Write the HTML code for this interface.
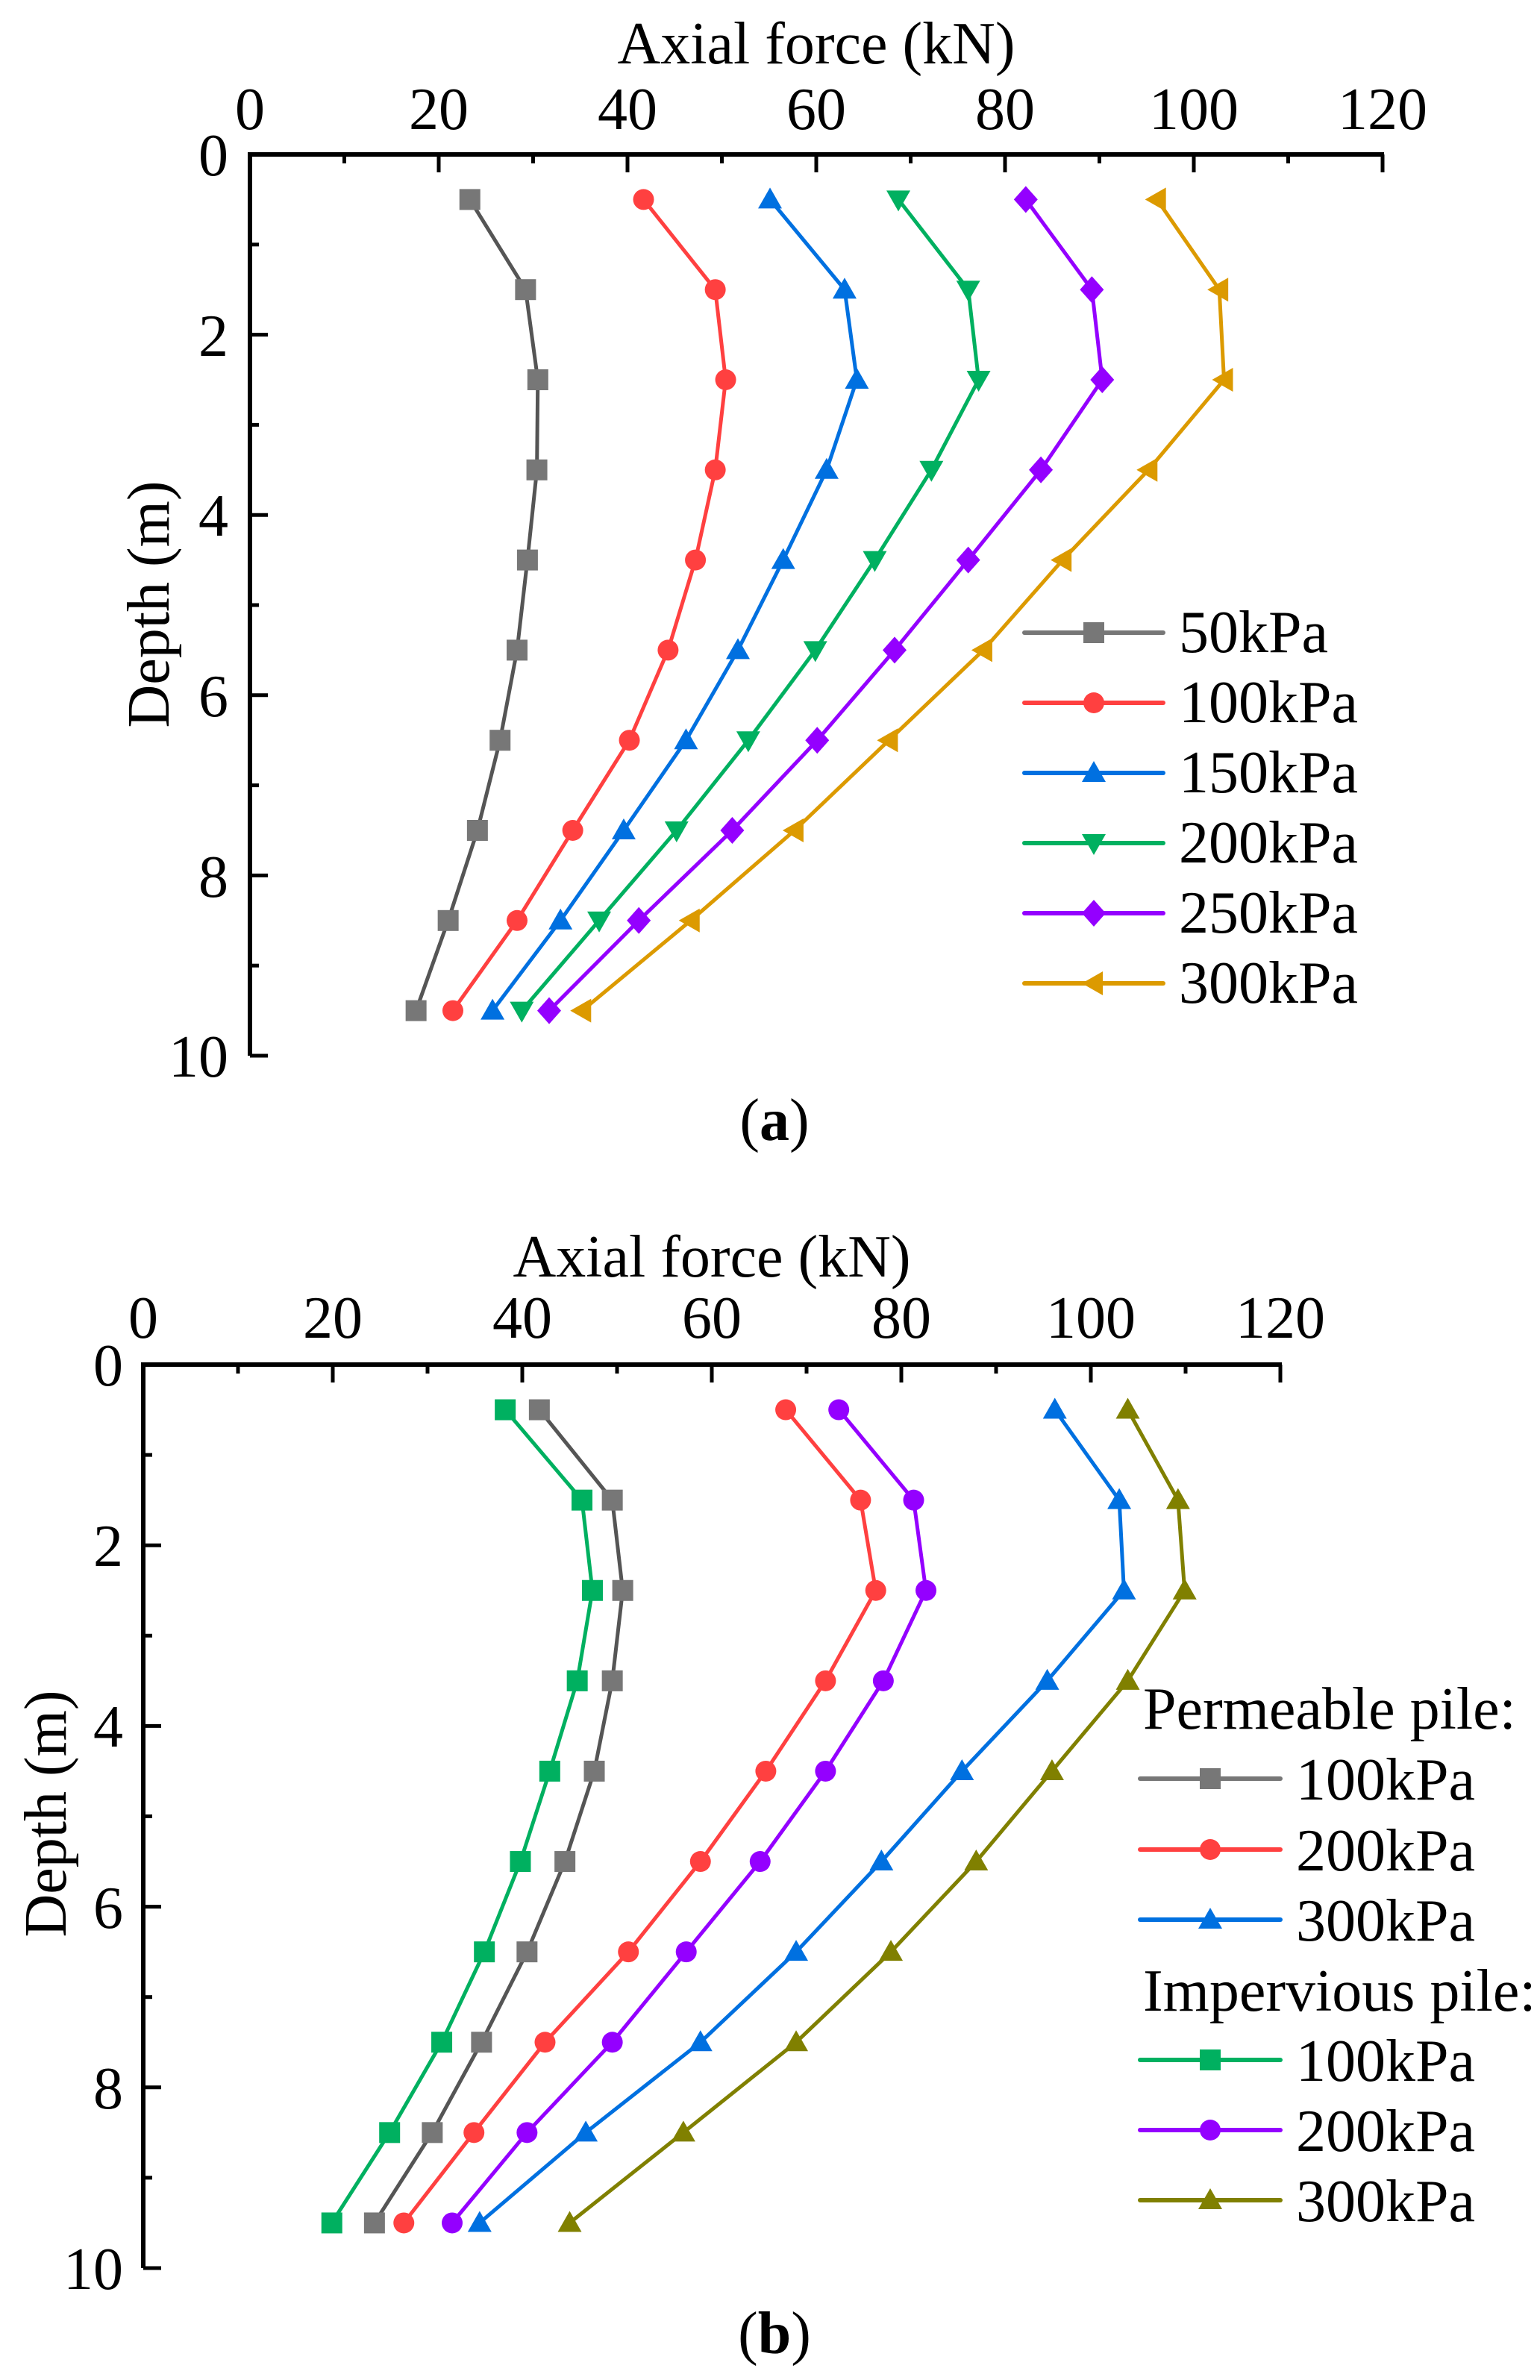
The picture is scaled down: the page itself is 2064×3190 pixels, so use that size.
<!DOCTYPE html>
<html><head><meta charset="utf-8"><style>
html,body{margin:0;padding:0;background:#fff;width:2064px;height:3190px;overflow:hidden}
svg{display:block}
text{font-family:"Liberation Serif",serif;fill:#000}
</style></head><body>
<svg id="s" width="2064" height="3190" viewBox="0 0 2064 3190" xmlns="http://www.w3.org/2000/svg">
<g font-size="80">
<!-- chart a labels -->
<text x="1094" y="85" text-anchor="middle">Axial force (kN)</text>
<g text-anchor="middle">
<text x="335" y="173">0</text><text x="588" y="173">20</text><text x="841" y="173">40</text><text x="1094" y="173">60</text><text x="1347" y="173">80</text><text x="1600" y="173">100</text><text x="1853" y="173">120</text>
</g>
<g text-anchor="end">
<text x="306" y="235">0</text><text x="306" y="477">2</text><text x="306" y="718">4</text><text x="306" y="960">6</text><text x="306" y="1202">8</text><text x="306" y="1443">10</text>
</g>
<text transform="translate(226,810) rotate(-90)" text-anchor="middle">Depth (m)</text>
<text x="1038" y="1528" text-anchor="middle">(<tspan font-weight="bold">a</tspan>)</text>
<g>
<text x="1580" y="874">50kPa</text><text x="1580" y="968">100kPa</text><text x="1580" y="1062">150kPa</text><text x="1580" y="1156">200kPa</text><text x="1580" y="1250">250kPa</text><text x="1580" y="1344">300kPa</text>
</g>
<!-- chart b labels -->
<text x="954" y="1711" text-anchor="middle">Axial force (kN)</text>
<g text-anchor="middle">
<text x="192" y="1793">0</text><text x="446" y="1793">20</text><text x="700" y="1793">40</text><text x="954" y="1793">60</text><text x="1208" y="1793">80</text><text x="1462" y="1793">100</text><text x="1716" y="1793">120</text>
</g>
<g text-anchor="end">
<text x="165" y="1857">0</text><text x="165" y="2099">2</text><text x="165" y="2341">4</text><text x="165" y="2584">6</text><text x="165" y="2826">8</text><text x="165" y="3068">10</text>
</g>
<text transform="translate(88,2431) rotate(-90)" text-anchor="middle">Depth (m)</text>
<text x="1038" y="3154" text-anchor="middle">(<tspan font-weight="bold">b</tspan>)</text>
<text x="1532" y="2317">Permeable pile:</text>
<text x="1737" y="2412">100kPa</text><text x="1737" y="2507">200kPa</text><text x="1737" y="2601">300kPa</text>
<text x="1532" y="2695">Impervious pile:</text>
<text x="1737" y="2789">100kPa</text><text x="1737" y="2883">200kPa</text><text x="1737" y="2977">300kPa</text>
</g>
<g id="dyn"></g>
</svg>
<script>
var NS="http://www.w3.org/2000/svg",g=document.getElementById("dyn");
function el(t,a){var e=document.createElementNS(NS,t);for(var k in a)e.setAttribute(k,a[k]);g.appendChild(e);return e;}
function marker(type,x,y,c){var r=14;
 if(type=="sq")el("rect",{x:x-r,y:y-r,width:2*r,height:2*r,fill:c});
 else if(type=="ci")el("circle",{cx:x,cy:y,r:r,fill:c});
 else if(type=="up")el("polygon",{points:(x)+","+(y-r-2)+" "+(x-r-2)+","+(y+r-2)+" "+(x+r+2)+","+(y+r-2),fill:c});
 else if(type=="dn")el("polygon",{points:(x)+","+(y+r+2)+" "+(x-r-2)+","+(y-r+2)+" "+(x+r+2)+","+(y-r+2),fill:c});
 else if(type=="di")el("polygon",{points:x+","+(y-r-4)+" "+(x+r+2)+","+y+" "+x+","+(y+r+4)+" "+(x-r-2)+","+y,fill:c});
 else if(type=="le")el("polygon",{points:(x-r-2)+","+y+" "+(x+r-2)+","+(y-r-2)+" "+(x+r-2)+","+(y+r+2),fill:c});
}
function axes(x0,x1,y0,y1){
 var sx=(x1-x0)/120,sy=(y1-y0)/10;
 el("line",{x1:x0,y1:y0,x2:x1+2,y2:y0,stroke:"#000","stroke-width":6});
 el("line",{x1:x0,y1:y0-3,x2:x0,y2:y1,stroke:"#000","stroke-width":6});
 for(var i=0;i<=12;i++){var x=x0+i*10*sx,L=i%2?12:24;el("line",{x1:x,y1:y0,x2:x,y2:y0+L,stroke:"#000","stroke-width":5});}
 for(var j=0;j<=10;j++){var y=y0+j*sy,L=j%2?12:24;el("line",{x1:x0,y1:y,x2:x0+L,y2:y,stroke:"#000","stroke-width":5});}
}
function series(x0,x1,y0,y1,d,c,m,lc){
 var sx=(x1-x0)/120,sy=(y1-y0)/10,p=[];
 for(var i=0;i<10;i++)p.push((x0+d[i]*sx).toFixed(1)+","+(y0+(i+0.5)*sy).toFixed(1));
 el("polyline",{points:p.join(" "),fill:"none",stroke:lc||c,"stroke-width":5,"stroke-linejoin":"round"});
 for(var i=0;i<10;i++)marker(m,x0+d[i]*sx,y0+(i+0.5)*sy,c);
}
function leg(xa,xb,y,c,m,lc){el("line",{x1:xa,y1:y,x2:xb,y2:y,stroke:lc||c,"stroke-width":6,"stroke-linecap":"round"});marker(m,(xa+xb)/2,y,c);}
// chart a
var A=[335,1853,207,1415];
axes.apply(null,A);
var sa=[
[[23.3,29.2,30.5,30.4,29.4,28.3,26.5,24.1,21.0,17.6],"#777","sq","#555"],
[[41.7,49.3,50.4,49.3,47.2,44.3,40.2,34.2,28.3,21.5],"#ff4040","ci"],
[[55.1,63.0,64.3,61.1,56.5,51.7,46.2,39.6,32.9,25.7],"#0070e0","up"],
[[68.7,76.1,77.2,72.2,66.2,59.9,52.8,45.2,37.0,28.8],"#00b060","dn"],
[[82.2,89.2,90.3,83.8,76.1,68.3,60.1,51.1,41.2,31.7],"#9400ff","di"],
[[96.1,102.7,103.2,95.2,86.1,77.7,67.7,57.7,46.7,35.2],"#dc9a00","le"]];
sa.forEach(function(s,i){series(A[0],A[1],A[2],A[3],s[0],s[1],s[2],s[3]);leg(1373,1559,848+94*i,s[1],s[2],s[1]=="#777"?"#777":null);});
// chart b
var B=[192,1716,1829,3040];
axes.apply(null,B);
var sb=[
[[41.8,49.5,50.6,49.5,47.6,44.5,40.5,35.7,30.5,24.4],"#777","sq","#555",2384],
[[67.8,75.7,77.3,72.0,65.7,58.8,51.2,42.4,34.9,27.5],"#ff4040","ci",null,2479],
[[96.2,103.0,103.5,95.4,86.4,77.9,68.9,58.8,46.7,35.5],"#0070e0","up",null,2573],
[[38.2,46.3,47.4,45.8,42.9,39.8,36.0,31.5,26.0,19.9],"#00b060","sq",null,2761],
[[73.4,81.3,82.6,78.1,72.0,65.1,57.3,49.5,40.5,32.6],"#9400ff","ci",null,2855],
[[103.9,109.2,109.9,103.9,95.9,87.9,78.9,68.9,57.0,45.0],"#808000","up",null,2949]];
sb.forEach(function(s){series(B[0],B[1],B[2],B[3],s[0],s[1],s[2],s[3]);leg(1528,1716,s[4],s[1],s[2],s[1]=="#777"?"#777":null);});
</script>
</body></html>
